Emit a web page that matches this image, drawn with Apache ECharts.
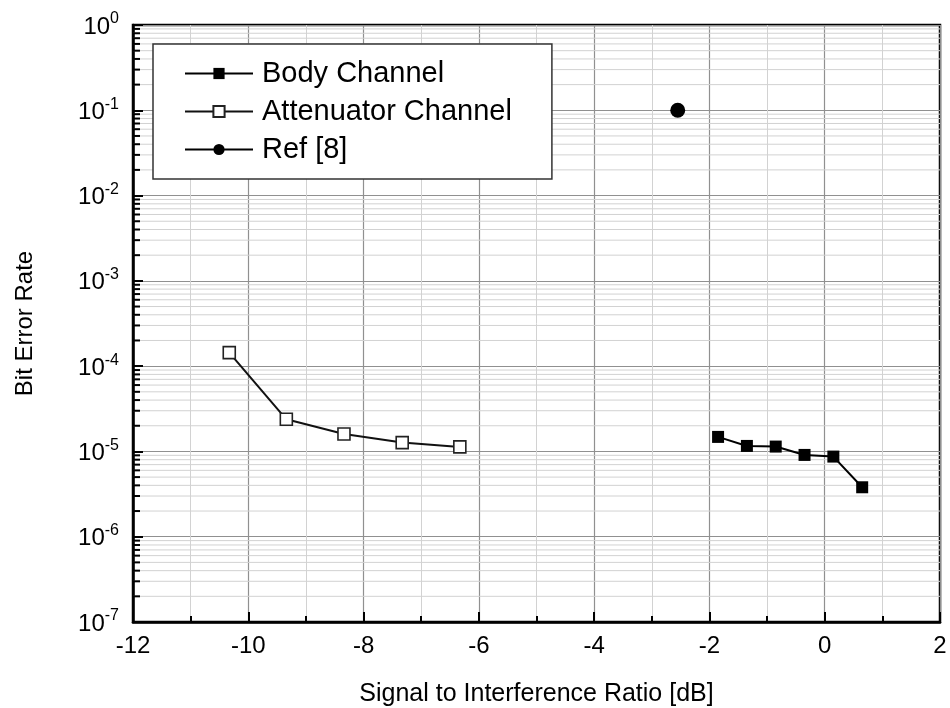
<!DOCTYPE html>
<html>
<head>
<meta charset="utf-8">
<title>Bit Error Rate vs Signal to Interference Ratio</title>
<script src="https://cdn.jsdelivr.net/npm/echarts@6/dist/echarts.min.js"></script>
<style>
  html, body { margin: 0; padding: 0; background: #ffffff; }
  #chart { width: 950px; height: 708px; }
</style>
</head>
<body>
<div id="chart"></div>
<script>
// Measured BER points, x = SIR in dB, y = bit error rate
const bodySIR = [-1.85, -1.35, -0.85, -0.35, 0.15, 0.65];
const bodyBER = [1.48e-5, 1.16e-5, 1.14e-5, 9.1e-6, 8.7e-6, 3.8e-6];

const attenSIR = [-10.33, -9.34, -8.34, -7.33, -6.33];
const attenBER = [1.44e-4, 2.38e-5, 1.6e-5, 1.27e-5, 1.13e-5];

const refSIR = [-2.55];
const refBER = [0.1];

const seriesNames = ['Body Channel', 'Attenuator Channel', 'Ref [8]'];

// Axis ranges
const X_MIN = -12, X_MAX = 2, X_STEP = 2;
const Y_MIN = 1e-7, Y_MAX = 1;

// Intermediate log-decade gridline positions (2..9 x 10^e)
const yMinorTicks = [];
for (let e = -7; e < 0; e++) {
  for (let m = 2; m <= 9; m++) yMinorTicks.push(m * Math.pow(10, e));
}

const FONT = '"Liberation Sans", Arial, sans-serif';
const pairs = (xs, ys) => xs.map((x, i) => [x, ys[i]]);

const chart = echarts.init(document.getElementById('chart'), null, { renderer: 'canvas' });

chart.setOption({
  backgroundColor: '#ffffff',
  animation: false,
  textStyle: { fontFamily: FONT, color: '#000' },
  grid: {
    left: 133, right: 10, top: 25, bottom: 86,
    containLabel: false,
    outerBoundsMode: 'none',
    show: true, borderColor: '#000', borderWidth: 2.5, backgroundColor: 'transparent'
  },
  legend: {
    data: seriesNames,
    orient: 'vertical',
    left: 153, top: 44,
    padding: [15, 40, 15, 31],
    itemWidth: 68, itemHeight: 14, itemGap: 9,
    backgroundColor: '#ffffff',
    borderColor: '#333', borderWidth: 1.5,
    textStyle: { fontFamily: FONT, fontSize: 29, color: '#000', lineHeight: 28, padding: [0, 0, 0, 4] }
  },
  xAxis: {
    type: 'value',
    min: X_MIN, max: X_MAX, interval: X_STEP,
    name: 'Signal to Interference Ratio [dB]',
    nameLocation: 'middle', nameGap: 60,
    nameTextStyle: { fontFamily: FONT, fontSize: 25, color: '#000' },
    axisLine: { show: true, onZero: false, lineStyle: { color: '#000', width: 2.5 } },
    axisTick: { show: true, inside: true, length: 10, lineStyle: { color: '#000', width: 2 } },
    minorTick: { show: true, splitNumber: 2, length: 6, lineStyle: { color: '#000', width: 2 } },
    axisLabel: { fontFamily: FONT, fontSize: 24, color: '#000', margin: 12 },
    splitLine: { show: true, lineStyle: { color: '#909090', width: 1.2 } },
    minorSplitLine: { show: true, lineStyle: { color: '#d2d2d2', width: 1 } }
  },
  yAxis: {
    type: 'log', logBase: 10,
    min: Y_MIN, max: Y_MAX, interval: 1, splitNumber: 7,
    name: 'Bit Error Rate',
    nameLocation: 'middle', nameGap: 96,
    nameTextStyle: { fontFamily: FONT, fontSize: 24, color: '#000' },
    axisLine: { show: true, onZero: false, lineStyle: { color: '#000', width: 2.5 } },
    axisTick: { show: true, inside: true, length: 10, lineStyle: { color: '#000', width: 2 } },
    axisLabel: {
      margin: 14,
      formatter: function (v) {
        const e = Math.round(Math.log10(v));
        return '{b|10}{s|' + e + '}';
      },
      rich: {
        b: { fontFamily: FONT, fontSize: 24, color: '#000', lineHeight: 28, verticalAlign: 'bottom' },
        s: { fontFamily: FONT, fontSize: 16, color: '#000', verticalAlign: 'top', lineHeight: 16 }
      }
    },
    splitLine: { show: true, lineStyle: { color: '#909090', width: 1.2 } }
  },
  series: [
    {
      // light gridlines and short ticks between decades
      type: 'custom',
      name: 'yMinor',
      silent: true,
      z: 1,
      data: yMinorTicks.map(v => [X_MIN, v]),
      renderItem: function (params, api) {
        const v = api.value(1);
        const p0 = api.coord([X_MIN, v]);
        const p1 = api.coord([X_MAX, v]);
        return {
          type: 'group',
          children: [
            { type: 'line', shape: { x1: p0[0], y1: p0[1], x2: p1[0], y2: p1[1] },
              style: { stroke: '#d2d2d2', lineWidth: 1 } },
            { type: 'line', shape: { x1: p0[0], y1: p0[1], x2: p0[0] + 7, y2: p0[1] },
              style: { stroke: '#000', lineWidth: 2 } }
          ]
        };
      }
    },
    {
      name: seriesNames[0],
      type: 'line',
      z: 3,
      data: pairs(bodySIR, bodyBER),
      symbol: 'rect', symbolSize: 12,
      itemStyle: { color: '#000' },
      lineStyle: { color: '#000', width: 2 }
    },
    {
      name: seriesNames[1],
      type: 'line',
      z: 3,
      data: pairs(attenSIR, attenBER),
      symbol: 'rect', symbolSize: 12,
      showAllSymbol: true,
      itemStyle: { color: '#ffffff', borderColor: '#222', borderWidth: 1.6 },
      lineStyle: { color: '#111', width: 2 }
    },
    {
      name: seriesNames[2],
      type: 'line',
      z: 3,
      data: pairs(refSIR, refBER),
      symbol: 'circle', symbolSize: 15,
      itemStyle: { color: '#000' },
      lineStyle: { color: '#000', width: 2 }
    }
  ]
});
</script>
</body>
</html>
